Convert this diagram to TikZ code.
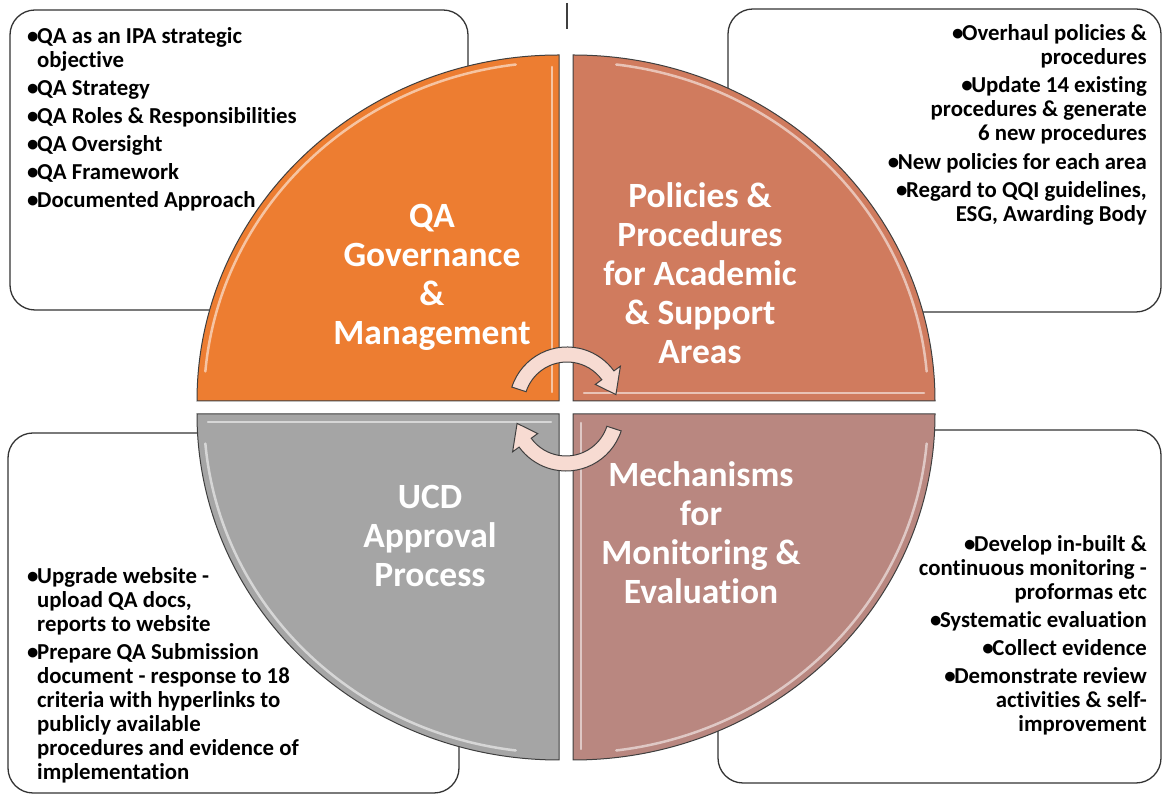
\documentclass[tikz,border=0pt]{standalone}
\usepackage{fontspec}
\setmainfont{Carlito}[Ligatures=NoCommon]
\definecolor{qorange}{HTML}{ED7D31}
\definecolor{qterra}{HTML}{D07B5E}
\definecolor{qgray}{HTML}{A5A5A5}
\definecolor{qrose}{HTML}{B98780}
\definecolor{arrowfill}{HTML}{F7DBD2}
\definecolor{boxline}{HTML}{333333}
\definecolor{quadline}{HTML}{3F3F3F}
\newcommand\bul{\makebox[10pt][l]{•}}
\newcommand\ind{\hspace*{10pt}}
\begin{document}
\begin{tikzpicture}[x=1pt,y=1pt,
  panel/.style={draw=boxline, line width=1.3pt, fill=white, rounded corners=25pt},
  quad/.style={draw=quadline, line width=1pt},
  shine/.style={white, line width=2.5pt, opacity=0.55, line cap=round},
  title/.style={font=\fontsize{35.5}{39}\selectfont\bfseries, text=white, align=center, inner sep=0pt, anchor=base},
  listl/.style={font=\fontsize{22.8}{24}\selectfont\bfseries, align=left, inner sep=0pt, anchor=base west},
  listr/.style={font=\fontsize{22.8}{24}\selectfont\bfseries, align=right, inner sep=0pt, anchor=base east},
  turn/.style={draw=quadline, line width=1pt, fill=arrowfill}
]
\useasboundingbox (0,0) rectangle (1163,795);

% text panels behind the wheel
\draw[panel] (10,485) rectangle (468,785);
\draw[panel] (728,483) rectangle (1161,786);
\draw[panel] (8,2) rectangle (459,362);
\draw[panel] (718,12) rectangle (1161,365);

% the four quarters of the wheel
\draw[quad, fill=qorange] (559,394) -- (197,394) arc[start angle=180, end angle=90, x radius=362, y radius=346] -- cycle;
\draw[quad, fill=qterra] (573,394) -- (573,740) arc[start angle=90, end angle=0, x radius=362, y radius=346] -- cycle;
\draw[quad, fill=qrose] (573,381) -- (935,381) arc[start angle=0, end angle=-90, x radius=362, y radius=346] -- cycle;
\draw[quad, fill=qgray] (559,381) -- (559,35) arc[start angle=270, end angle=180, x radius=362, y radius=346] -- cycle;

% bevel highlights
\draw[shine] ([shift={(559,394)}]175:355 and 339) arc[start angle=175, end angle=97, x radius=355, y radius=339];
\draw[shine] (552,403) -- (552,728);
\draw[shine] ([shift={(573,394)}]83:355 and 339) arc[start angle=83, end angle=5, x radius=355, y radius=339];
\draw[shine] (584,402) -- (924,402);
\draw[shine] (208,373) -- (551,373);
\draw[shine] ([shift={(559,381)}]263:355 and 339) arc[start angle=263, end angle=185, x radius=355, y radius=339];
\draw[shine] (581,46) -- (581,372);
\draw[shine] ([shift={(573,381)}]-5:355 and 339) arc[start angle=-5, end angle=-83, x radius=355, y radius=339];

% small tick above the wheel
\coordinate (tickTop) at (567,792);
\coordinate (tickBot) at (567,766);
\draw[quadline, line width=1.2pt] (tickTop) -- (tickBot);

% circular arrows in the middle
\begin{scope}[shift={(567,390)}]
  \draw[turn] (162:58) arc[start angle=162, end angle=36, radius=58]
    -- (36:66) -- (12:50) -- (36:35) -- (36:43)
    arc[start angle=36, end angle=162, radius=43] -- cycle;
\end{scope}
\begin{scope}[shift={(566,382)}, rotate=180]
  \draw[turn] (162:58) arc[start angle=162, end angle=36, radius=58]
    -- (36:66) -- (12:50) -- (36:35) -- (36:43)
    arc[start angle=36, end angle=162, radius=43] -- cycle;
\end{scope}

% quarter titles (anchored on the baseline of their last line)
\node[title] (gov) at (432,450) {QA\\Governance\\\&\\Management};
\node[title] (pol) at (700,431) {Policies \&\\Procedures\\for Academic\\\& Support\\Areas};
\node[title] (ucd) at (430,208) {UCD\\Approval\\Process};
\node[title] (mon) at (701,191) {Mechanisms\\for\\Monitoring \&\\Evaluation};

% panel lists (anchored on the baseline of their last line)
\node[listl] (govlist) at (27,587) {\bul QA as an IPA strategic\\\ind objective\\[4pt]\bul QA Strategy\\[4pt]\bul QA Roles \& Responsibilities\\[4pt]\bul QA Oversight\\[4pt]\bul QA Framework\\[4pt]\bul Documented Approach};
\node[listr] (pollist) at (1147,573) {\bul Overhaul policies \&\\ procedures\\[4.5pt]\bul Update 14 existing\\ procedures \& generate\\ 6 new procedures\\[4.5pt]\bul New policies for each area\\[4.5pt]\bul Regard to QQI guidelines,\\ ESG, Awarding Body};
\node[listl] (ucdlist) at (27,15) {\bul Upgrade website -\\\ind upload QA docs,\\\ind reports to website\\[4pt]\bul Prepare QA Submission\\\ind document - response to 18\\\ind criteria with hyperlinks to\\\ind publicly available\\\ind procedures and evidence of\\\ind implementation};
\node[listr] (monlist) at (1147,63) {\bul Develop in-built \&\\ continuous monitoring -\\ proformas etc\\[4pt]\bul Systematic evaluation\\[4pt]\bul Collect evidence\\[4pt]\bul Demonstrate review\\ activities \& self-\\ improvement};
\end{tikzpicture}
\end{document}
